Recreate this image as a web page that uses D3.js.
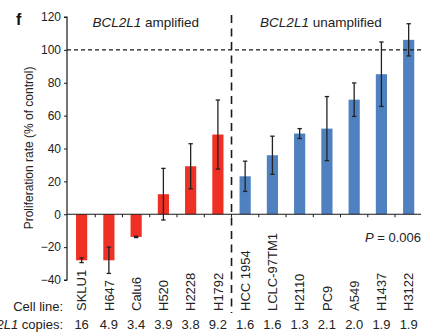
<!DOCTYPE html>
<html>
<head>
<meta charset="utf-8">
<script src="https://cdn.jsdelivr.net/npm/d3@7"></script>
<style>
  html, body { margin: 0; padding: 0; background: #fff; }
  svg { display: block; font-family: "Liberation Sans", Arial, Helvetica, sans-serif; }
</style>
</head>
<body>
<svg id="chart" width="421" height="333"></svg>
<script>
// ---- data ----
const cellLines = ["SKLU1", "H647", "Calu6", "H520", "H2228", "H1792",
                   "HCC 1954", "LCLC-97TM1", "H2110", "PC9", "A549", "H1437", "H3122"];
const copies = ["16", "4.9", "3.4", "3.9", "3.8", "9.2",
                "1.6", "1.6", "1.3", "2.1", "2.0", "1.9", "1.9"];
const values = [-28, -28, -13.8, 12.2, 29.2, 48.5,
                23.1, 35.9, 49.1, 52.1, 69.7, 85.2, 106.1];
const errors = [1.4, 8, 0.4, 15.7, 13.7, 21,
                9.2, 11.6, 3, 19.5, 10.2, 19.6, 9.8];
const groups = ["amplified", "amplified", "amplified", "amplified", "amplified", "amplified",
                "unamplified", "unamplified", "unamplified", "unamplified", "unamplified", "unamplified", "unamplified"];
const yTicks = [-40, -20, 0, 20, 40, 60, 80, 100, 120];
const referenceLine = 100;
const pValueLabel = "P = 0.006";

// ---- layout ----
const svg = d3.select("#chart");
const colors = { amplified: "#ee3124", unamplified: "#4f80bf" };
const ink = "#1a1a1a";

const y = d3.scaleLinear().domain([-40, 120]).range([280, 17]);
const x = d3.scaleBand()
  .domain(cellLines)
  .range([68, 422.3])
  .paddingInner(0.59)
  .paddingOuter(0.295);

const axisX = 67;
const rightEdge = 421;
const cx = d => x(d) + x.bandwidth() / 2;

// bars
svg.append("g").selectAll("rect")
  .data(cellLines)
  .join("rect")
  .attr("x", d => x(d))
  .attr("width", x.bandwidth())
  .attr("y", (d, i) => y(Math.max(0, values[i])))
  .attr("height", (d, i) => Math.abs(y(values[i]) - y(0)))
  .attr("fill", (d, i) => colors[groups[i]]);

// error bars
const eb = svg.append("g").attr("stroke", "#222").attr("stroke-width", 1.3);
cellLines.forEach((d, i) => {
  const c = cx(d);
  const lo = y(values[i] - errors[i]);
  const hi = y(values[i] + errors[i]);
  eb.append("line").attr("x1", c).attr("x2", c).attr("y1", lo).attr("y2", hi);
  eb.append("line").attr("x1", c - 2.2).attr("x2", c + 2.2).attr("y1", lo).attr("y2", lo);
  eb.append("line").attr("x1", c - 2.2).attr("x2", c + 2.2).attr("y1", hi).attr("y2", hi);
});

// y axis
const yAxis = d3.axisLeft(y).tickValues(yTicks).tickSize(3).tickPadding(3)
  .tickFormat(d3.format("d"));
const gy = svg.append("g").attr("transform", `translate(${axisX},0)`).call(yAxis);
gy.select(".domain").attr("stroke", ink).attr("stroke-width", 1.2).attr("d", `M-3,${y(120)}H0V${y(-40)}H-3`);
gy.selectAll(".tick line").attr("stroke", ink).attr("stroke-width", 1);
gy.selectAll(".tick text").attr("fill", "#222").style("font-size", "12px")
  .style("font-family", "'Liberation Sans', Arial, sans-serif");

// x axis baseline at 0
svg.append("line")
  .attr("x1", axisX).attr("x2", rightEdge)
  .attr("y1", y(0)).attr("y2", y(0))
  .attr("stroke", ink).attr("stroke-width", 1.2);

// x ticks at band boundaries
const boundaries = cellLines.slice(1).map(d => x(d) - (x.step() - x.bandwidth()) / 2);
svg.append("g").selectAll("line")
  .data(boundaries)
  .join("line")
  .attr("x1", d => d).attr("x2", d => d)
  .attr("y1", y(0)).attr("y2", y(0) + 3)
  .attr("stroke", ink).attr("stroke-width", 1);

// reference dashed line at 100
svg.append("line")
  .attr("x1", axisX).attr("x2", rightEdge)
  .attr("y1", y(referenceLine)).attr("y2", y(referenceLine))
  .attr("stroke", ink).attr("stroke-width", 1.3)
  .attr("stroke-dasharray", "4,3");

// vertical dashed separator
const sepX = boundaries[5];
svg.append("line")
  .attr("x1", sepX).attr("x2", sepX)
  .attr("y1", 15).attr("y2", 313)
  .attr("stroke", ink).attr("stroke-width", 1.6)
  .attr("stroke-dasharray", "8,5.5");

// group titles
const ampCenter = (cx(cellLines[0]) + cx(cellLines[5])) / 2 - 4;
const unampCenter = (cx(cellLines[6]) + cx(cellLines[12])) / 2 - 6;
const t1 = svg.append("text").attr("x", ampCenter).attr("y", 27)
  .attr("text-anchor", "middle").attr("fill", "#222").style("font-size", "13.5px");
t1.append("tspan").style("font-style", "italic").text("BCL2L1");
t1.append("tspan").text(" amplified");
const t2 = svg.append("text").attr("x", unampCenter).attr("y", 27)
  .attr("text-anchor", "middle").attr("fill", "#222").style("font-size", "13.5px");
t2.append("tspan").style("font-style", "italic").text("BCL2L1");
t2.append("tspan").text(" unamplified");

// P value
const pt = svg.append("text").attr("x", 365).attr("y", 242)
  .attr("fill", "#222").style("font-size", "13px");
pt.append("tspan").style("font-style", "italic").text(pValueLabel.slice(0, 1));
pt.append("tspan").text(pValueLabel.slice(1));

// panel letter
svg.append("text").attr("x", 16).attr("y", 25)
  .attr("fill", "#111").style("font-size", "16px").style("font-weight", "bold").text("f");

// y axis title
svg.append("text")
  .attr("transform", `translate(33,148) rotate(-90)`)
  .attr("text-anchor", "middle").attr("fill", "#222").style("font-size", "12px")
  .text("Proliferation rate (% of control)");

// cell line labels (rotated)
svg.append("g").selectAll("text")
  .data(cellLines)
  .join("text")
  .attr("transform", d => `translate(${cx(d)},311) rotate(-90)`)
  .attr("dy", "0.36em")
  .attr("text-anchor", "start")
  .attr("fill", "#222").style("font-size", "13px")
  .text(d => d);

// copies row
svg.append("g").selectAll("text")
  .data(copies)
  .join("text")
  .attr("x", (d, i) => cx(cellLines[i]))
  .attr("y", 329)
  .attr("text-anchor", "middle")
  .attr("fill", "#222").style("font-size", "13px")
  .text(d => d);

// row labels
svg.append("text").attr("x", 63).attr("y", 311).attr("text-anchor", "end")
  .attr("fill", "#222").style("font-size", "13px").text("Cell line:");
const cl = svg.append("text").attr("x", 63).attr("y", 329).attr("text-anchor", "end")
  .attr("fill", "#222").style("font-size", "13px");
cl.append("tspan").style("font-style", "italic").text("BCL2L1");
cl.append("tspan").text(" copies:");
</script>
</body>
</html>
